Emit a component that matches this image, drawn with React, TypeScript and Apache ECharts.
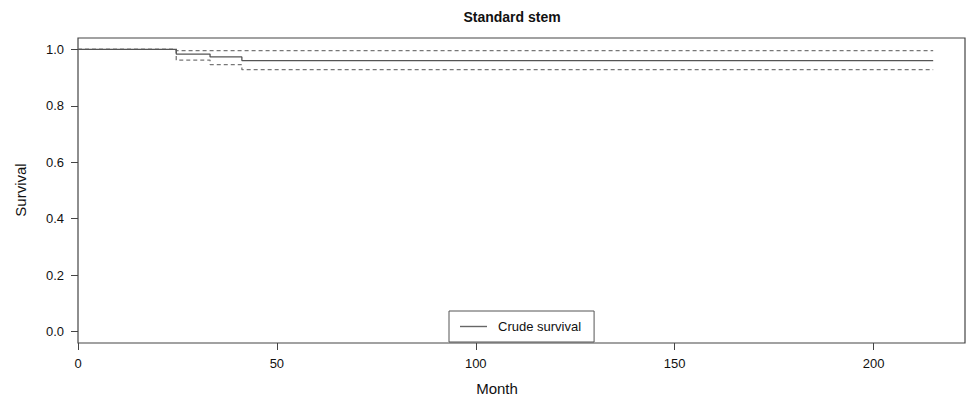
import React, { useEffect, useRef } from "react";
import * as echarts from "echarts";

const title = "Standard stem";
const xName = "Month";
const yName = "Survival";
const legendName = "Crude survival";

const xTicks = [0, 50, 100, 150, 200];
const yTicks = [0, 0.2, 0.4, 0.6, 0.8, 1.0];

// Kaplan-Meier style step curves: [month, survival]
const crudeSurvival: [number, number][] = [
  [0, 1.0],
  [24.7, 0.983],
  [33.2, 0.973],
  [41.2, 0.96],
  [215, 0.96],
];
const upperCI: [number, number][] = [
  [0, 1.0],
  [24.7, 0.995],
  [215, 0.994],
];
const lowerCI: [number, number][] = [
  [0, 1.0],
  [24.7, 0.962],
  [33.2, 0.946],
  [41.2, 0.928],
  [215, 0.927],
];

const FONT = "'Liberation Sans', Arial, Helvetica, sans-serif";

export default function App() {
  const ref = useRef<HTMLDivElement>(null);
  useEffect(() => {
    if (!ref.current) return;
    const chart = echarts.init(ref.current, undefined, { renderer: "svg" });
    chart.setOption({
      animation: false,
      backgroundColor: "#ffffff",
      textStyle: { fontFamily: FONT },
      grid: {
        left: 78,
        top: 38,
        right: 3,
        bottom: 59,
        show: true,
        borderColor: "#444",
        borderWidth: 1.2,
        containLabel: false,
      },
      xAxis: {
        type: "value",
        min: 0,
        max: 223,
        axisLine: { show: false, onZero: false },
        splitLine: { show: false },
        axisTick: {
          show: true,
          length: 7,
          lineStyle: { color: "#444" },
          customValues: xTicks,
        },
        axisLabel: {
          customValues: xTicks,
          color: "#111",
          fontSize: 13,
          margin: 14,
          fontFamily: FONT,
        },
      },
      yAxis: {
        type: "value",
        min: -0.04,
        max: 1.04,
        axisLine: { show: false, onZero: false },
        splitLine: { show: false },
        axisTick: {
          show: true,
          length: 7,
          lineStyle: { color: "#444" },
          customValues: yTicks,
        },
        axisLabel: {
          customValues: yTicks,
          color: "#111",
          fontSize: 13,
          margin: 14,
          fontFamily: FONT,
          formatter: (v: number) => v.toFixed(1),
        },
      },
      legend: {
        show: true,
        left: 449,
        top: 311,
        data: [{ name: legendName }],
        orient: "horizontal",
        icon: "rect",
        backgroundColor: "#fff",
        borderColor: "#555",
        borderWidth: 1,
        borderRadius: 0,
        padding: [9, 13, 9, 11],
        itemWidth: 27,
        itemHeight: 1.4,
        itemGap: 0,
        itemStyle: { color: "#666" },
        textStyle: {
          color: "#111",
          fontSize: 13,
          fontFamily: FONT,
          padding: [0, 0, 0, 6],
        },
      },
      graphic: [
        {
          type: "text",
          x: 512,
          y: 17,
          style: {
            text: title,
            font: `bold 14px ${FONT}`,
            fill: "#111",
            textAlign: "center",
            textVerticalAlign: "middle",
          },
        },
        {
          type: "text",
          x: 497,
          y: 388,
          style: {
            text: xName,
            font: `15px ${FONT}`,
            fill: "#111",
            textAlign: "center",
            textVerticalAlign: "middle",
          },
        },
        {
          type: "text",
          x: 20,
          y: 190,
          rotation: Math.PI / 2,
          style: {
            text: yName,
            font: `15px ${FONT}`,
            fill: "#111",
            textAlign: "center",
            textVerticalAlign: "middle",
          },
        },
      ],
      series: [
        {
          name: legendName,
          type: "line",
          step: "end",
          data: crudeSurvival,
          symbol: "none",
          lineStyle: { color: "#555", width: 1.3, type: "solid" },
          itemStyle: { color: "#555" },
          z: 3,
        },
        {
          name: "upper",
          type: "line",
          step: "end",
          data: upperCI,
          symbol: "none",
          lineStyle: { color: "#777", width: 1.3, type: [4, 3] },
          itemStyle: { color: "#777" },
          z: 2,
        },
        {
          name: "lower",
          type: "line",
          step: "end",
          data: lowerCI,
          symbol: "none",
          lineStyle: { color: "#777", width: 1.3, type: [4, 3] },
          itemStyle: { color: "#777" },
          z: 2,
        },
      ],
    });
    return () => chart.dispose();
  }, []);
  return <div ref={ref} style={{ width: 968, height: 402, position: "absolute", left: 0, top: 0 }} />;
}
